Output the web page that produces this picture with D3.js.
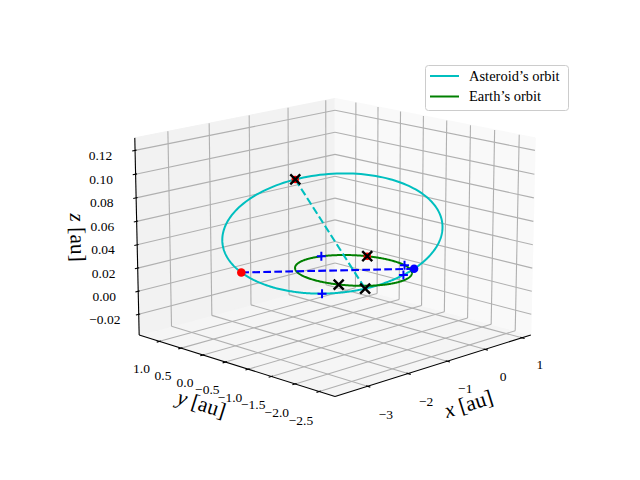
<!DOCTYPE html>
<html>
<head>
<meta charset="utf-8">
<script src="https://cdn.jsdelivr.net/npm/d3@7/dist/d3.min.js"></script>
<style>
  body { margin: 0; background: #fff; }
  svg text { font-family: "Liberation Serif", serif; fill: #000; }
</style>
</head>
<body>
<svg id="chart" width="640" height="480"></svg>
<script>
"use strict";

// orbital elements: [asteroid, Earth]
const orbitNames = ["Asteroid\u2019s orbit", "Earth\u2019s orbit"];
const semiMajor = [2.28, 1.0];       // au
const eccentricity = [0.625, 0.0];
const inclination = [2.1, 0.0];      // deg
const ascNode = [144, 0];            // deg
const argPerihelion = [242, 0];      // deg

// marked places on the asteroid's orbit, true anomaly in deg
const apsides = [180, 0];            // aphelion, perihelion
const oneAuCrossings = [48, -48];
// nodes, argument of latitude in deg: ascending, descending
const nodes = [0, 180];

const xTicks = [-3, -2, -1, 0, 1];
const yTicks = [1.0, 0.5, 0.0, -0.5, -1.0, -1.5, -2.0, -2.5];
const zTicks = [-0.02, 0.00, 0.02, 0.04, 0.06, 0.08, 0.10, 0.12];

const xLim = [-3.78, 1.25];
const yLim = [-2.82, 1.48];
const zLim = [-0.038, 0.1305];

const rad = d => d * Math.PI / 180;

function orbitPoint(k, nuDeg) {
  const a = semiMajor[k], e = eccentricity[k];
  const nu = rad(nuDeg), u = rad(argPerihelion[k] + nuDeg);
  const O = rad(ascNode[k]), inc = rad(inclination[k]);
  const r = a * (1 - e * e) / (1 + e * Math.cos(nu));
  return [
    r * (Math.cos(O) * Math.cos(u) - Math.sin(O) * Math.sin(u) * Math.cos(inc)),
    r * (Math.sin(O) * Math.cos(u) + Math.cos(O) * Math.sin(u) * Math.cos(inc)),
    r * Math.sin(u) * Math.sin(inc)
  ];
}
const earthAt = p => orbitPoint(1, Math.atan2(p[1], p[0]) * 180 / Math.PI);
const asteroidAtLatArg = u => orbitPoint(0, u - argPerihelion[0]);

// --- 3d view, same kind of camera as matplotlib's mplot3d
const elev = 15, azim = -135, camDist = 10;
const boxAspect = [4, 4, 3].map(v => v * 1.8294640721620434 / Math.hypot(4, 4, 3));
const boxX = d3.scaleLinear().domain(xLim).range([-boxAspect[0] / 2, boxAspect[0] / 2]);
const boxY = d3.scaleLinear().domain(yLim).range([-boxAspect[1] / 2, boxAspect[1] / 2]);
const boxZ = d3.scaleLinear().domain(zLim).range([-boxAspect[2] / 2, boxAspect[2] / 2]);

const ce = Math.cos(rad(elev)), se = Math.sin(rad(elev));
const ca = Math.cos(rad(azim)), sa = Math.sin(rad(azim));
const wDir = [ce * ca, ce * sa, se];
const uDir = [-sa, ca, 0];
const vDir = [-se * ca, -se * sa, ce];

const screenX = d3.scaleLinear().domain([-0.1, 0.1]).range([90, 580]);
const screenY = d3.scaleLinear().domain([-0.1, 0.1]).range([475.5, -0.5]);

function project(p) {
  const d = [boxX(p[0]), boxY(p[1]), boxZ(p[2])];
  const depth = camDist - (wDir[0] * d[0] + wDir[1] * d[1] + wDir[2] * d[2]);
  const xv = uDir[0] * d[0] + uDir[1] * d[1];
  const yv = vDir[0] * d[0] + vDir[1] * d[1] + vDir[2] * d[2];
  return [screenX(xv / depth), screenY(yv / depth)];
}

const svg = d3.select("#chart");
const path = d3.line();
const [x0, x1] = xLim, [y0, y1] = yLim, [z0, z1] = zLim;
const rx = x1 - x0, ry = y1 - y0, rz = z1 - z0;

// panes
const panes = [
  { fill: "#f5f5f5", pts: [[x0, y0, z0], [x1, y0, z0], [x1, y1, z0], [x0, y1, z0]] },
  { fill: "#f2f2f2", pts: [[x0, y1, z0], [x1, y1, z0], [x1, y1, z1], [x0, y1, z1]] },
  { fill: "#f9f9f9", pts: [[x1, y0, z0], [x1, y1, z0], [x1, y1, z1], [x1, y0, z1]] }
];
svg.append("g").selectAll("path")
  .data(panes)
  .join("path")
  .attr("d", d => path(d.pts.map(project)) + "Z")
  .attr("fill", d => d.fill)
  .attr("stroke", d => d.fill)
  .attr("stroke-width", 1);

// grid lines
const gridSegs = [];
xTicks.forEach(t => {
  gridSegs.push([[t, y0, z0], [t, y1, z0]]);
  gridSegs.push([[t, y1, z0], [t, y1, z1]]);
});
yTicks.forEach(t => {
  gridSegs.push([[x0, t, z0], [x1, t, z0]]);
  gridSegs.push([[x1, t, z0], [x1, t, z1]]);
});
zTicks.forEach(t => {
  gridSegs.push([[x0, y1, t], [x1, y1, t]]);
  gridSegs.push([[x1, y0, t], [x1, y1, t]]);
});
svg.append("g").selectAll("path")
  .data(gridSegs)
  .join("path")
  .attr("d", d => path(d.map(project)))
  .attr("stroke", "#b0b0b0")
  .attr("stroke-width", 1.1)
  .attr("fill", "none");

// axis lines
const axisEdges = [
  [[x0, y0, z0], [x1, y0, z0]],
  [[x0, y0, z0], [x0, y1, z0]],
  [[x0, y1, z0], [x0, y1, z1]]
];
svg.append("g").selectAll("path")
  .data(axisEdges)
  .join("path")
  .attr("d", d => path(d.map(project)))
  .attr("stroke", "#000")
  .attr("stroke-width", 1.1)
  .attr("fill", "none");

// tick marks
const tickSegs = [];
xTicks.forEach(t => tickSegs.push([[t, y0 + 0.08 * ry / 12, z0], [t, y0 - 0.16 * ry / 12, z0]]));
yTicks.forEach(t => tickSegs.push([[x0 + 0.08 * rx / 12, t, z0], [x0 - 0.16 * rx / 12, t, z0]]));
zTicks.forEach(t => tickSegs.push([[x0 + 0.08 * rx / 12, y1, t], [x0 - 0.16 * rx / 12, y1, t]]));
svg.append("g").selectAll("path")
  .data(tickSegs)
  .join("path")
  .attr("d", d => path(d.map(project)))
  .attr("stroke", "#000")
  .attr("stroke-width", 1.1)
  .attr("fill", "none");

// tick labels
const lf = 0.0864;
const tickLabels = [
  ...xTicks.map(t => ({ p: [t, y0 - lf * ry, z0 - lf * rz], s: d3.format("d")(t) })),
  ...yTicks.map(t => ({ p: [x0 - lf * rx, t, z0 - lf * rz], s: d3.format(".1f")(t) })),
  ...zTicks.map(t => ({ p: [x0 - lf * rx, y1 + lf * ry, t], s: d3.format(".2f")(t) }))
];
svg.append("g").selectAll("text")
  .data(tickLabels)
  .join("text")
  .attr("x", d => project(d.p)[0])
  .attr("y", d => project(d.p)[1])
  .attr("dy", "0.7em")
  .attr("text-anchor", "middle")
  .attr("font-size", 13.5)
  .text(d => d.s);

// axis labels
const af = 0.15;
function edgeAngle(a, b) {
  const pa = project(a), pb = project(b);
  let ang = Math.atan2(pb[1] - pa[1], pb[0] - pa[0]) * 180 / Math.PI;
  ang = ((ang % 180) + 180) % 180;
  if (ang > 90) ang -= 180;
  return ang;
}
const axisLabels = [
  { v: "x", p: [(x0 + x1) / 2, y0 - af * ry, z0 - af * rz], e: axisEdges[0] },
  { v: "y", p: [x0 - af * rx, (y0 + y1) / 2, z0 - af * rz], e: axisEdges[1] },
  { v: "z", p: [x0 - af * rx, y1 + af * ry, (z0 + z1) / 2], e: axisEdges[2] }
];
const al = svg.append("g").selectAll("text")
  .data(axisLabels)
  .join("text")
  .attr("transform", d => {
    const q = project(d.p);
    return `translate(${q[0]},${q[1]}) rotate(${edgeAngle(d.e[0], d.e[1])})`;
  })
  .attr("text-anchor", "middle")
  .attr("dominant-baseline", "central")
  .attr("font-size", 21.5);
al.append("tspan").attr("font-style", "italic").text(d => d.v);
al.append("tspan").text(" [au]");

// orbits
const anomalies = d3.range(0, 361, 1);
const orbitColors = ["#00bfbf", "#008000"];
svg.append("g").selectAll("path")
  .data([0, 1])
  .join("path")
  .attr("d", k => path(anomalies.map(nu => project(orbitPoint(k, nu)))))
  .attr("stroke", k => orbitColors[k])
  .attr("stroke-width", 2)
  .attr("fill", "none");

// apsidal line and line of nodes
const dashed = [
  { pts: apsides.map(nu => orbitPoint(0, nu)), color: "#00bfbf" },
  { pts: nodes.map(asteroidAtLatArg), color: "#0000ff" }
];
svg.append("g").selectAll("path")
  .data(dashed)
  .join("path")
  .attr("d", d => path(d.pts.map(project)))
  .attr("stroke", d => d.color)
  .attr("stroke-width", 2.1)
  .attr("stroke-dasharray", "7.7,3.3")
  .attr("fill", "none");

// node dots
const nodeColors = ["#ff0000", "#0000ff"];
svg.append("g").selectAll("circle")
  .data(nodes)
  .join("circle")
  .attr("cx", u => project(asteroidAtLatArg(u))[0])
  .attr("cy", u => project(asteroidAtLatArg(u))[1])
  .attr("r", 4.3)
  .attr("fill", (u, i) => nodeColors[i]);

// crossings of 1 au and Earth at the same longitude
const plusPts = oneAuCrossings.flatMap(nu => {
  const p = orbitPoint(0, nu);
  return [p, earthAt(p)];
});
svg.append("g").selectAll("path")
  .data(plusPts)
  .join("path")
  .attr("transform", p => `translate(${project(p)})`)
  .attr("d", "M-4.5,0H4.5M0,-4.5V4.5")
  .attr("stroke", "#0000ff")
  .attr("stroke-width", 2);

// apsides and Earth at the same longitude
const redPts = [orbitPoint(0, apsides[0]), earthAt(orbitPoint(0, apsides[1]))];
svg.append("g").selectAll("circle")
  .data(redPts)
  .join("circle")
  .attr("cx", p => project(p)[0])
  .attr("cy", p => project(p)[1])
  .attr("r", 3.7)
  .attr("fill", "#ff0000");

const crossPts = apsides.flatMap(nu => {
  const p = orbitPoint(0, nu);
  return [p, earthAt(p)];
});
svg.append("g").selectAll("path")
  .data(crossPts)
  .join("path")
  .attr("transform", p => `translate(${project(p)})`)
  .attr("d", "M-5,-5L5,5M-5,5L5,-5")
  .attr("stroke", "#000")
  .attr("stroke-width", 2.4);

// legend
const legend = svg.append("g");
legend.append("rect")
  .attr("x", 425.5).attr("y", 65.5)
  .attr("width", 143).attr("height", 45)
  .attr("rx", 3)
  .attr("fill", "#fff").attr("fill-opacity", 0.8)
  .attr("stroke", "#cccccc");
const items = legend.selectAll("g.item")
  .data(orbitNames)
  .join("g")
  .attr("class", "item")
  .attr("transform", (d, i) => `translate(0,${i * 20.5})`);
items.append("line")
  .attr("x1", 430).attr("x2", 459)
  .attr("y1", 76).attr("y2", 76)
  .attr("stroke", (d, i) => orbitColors[i])
  .attr("stroke-width", 2);
items.append("text")
  .attr("x", 469).attr("y", 80.5)
  .attr("font-size", 14.5)
  .text(d => d);
</script>
</body>
</html>
